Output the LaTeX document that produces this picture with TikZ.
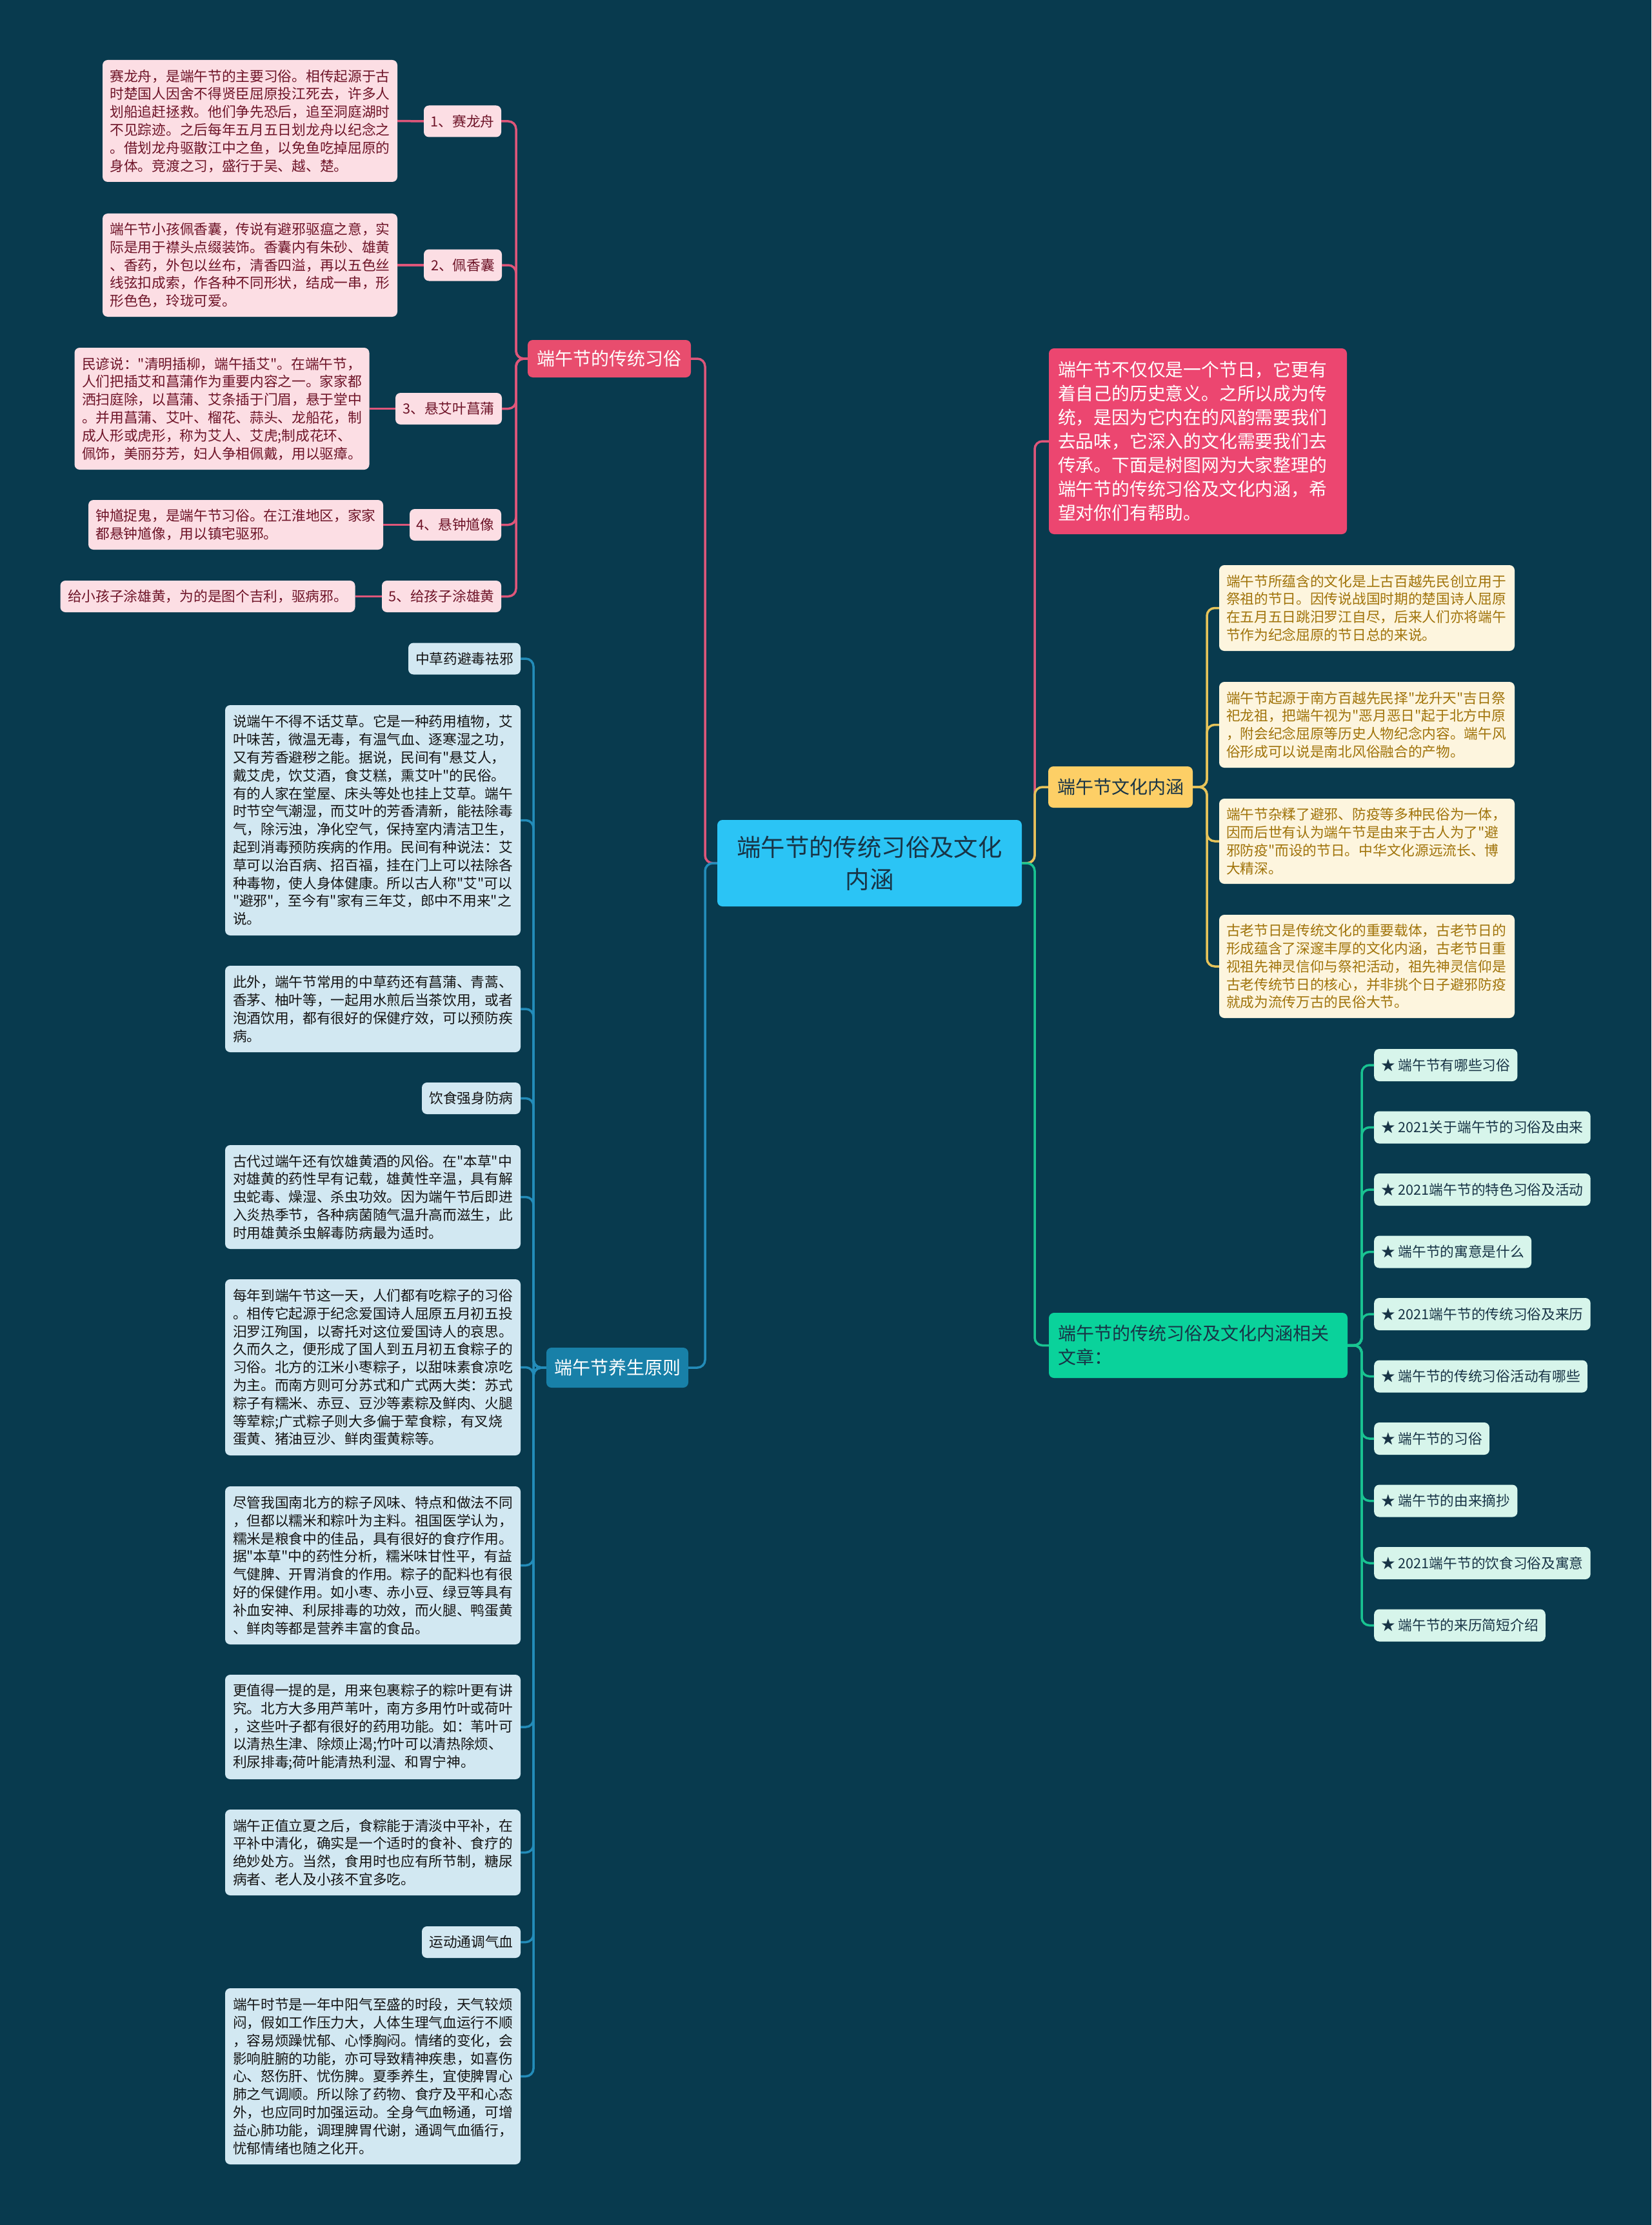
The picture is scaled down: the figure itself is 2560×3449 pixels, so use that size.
\documentclass[tikz,border=0pt]{standalone}
\usepackage{fontspec}
\setmainfont{Noto Sans CJK SC}[Ligatures=TeXOff]
\newcommand\fsz[2]{\fontsize{#1pt}{#2pt}\selectfont}
\definecolor{bg}{RGB}{8,58,78}
\definecolor{pkline}{RGB}{222,86,122}
\definecolor{pkfill}{RGB}{252,222,228}
\definecolor{pktext}{RGB}{110,20,40}
\definecolor{pkbranch}{RGB}{232,77,110}
\definecolor{blline}{RGB}{35,140,185}
\definecolor{blfill}{RGB}{210,232,242}
\definecolor{bltext}{RGB}{20,20,20}
\definecolor{blbranch}{RGB}{24,128,168}
\definecolor{ctfill}{RGB}{43,196,245}
\definecolor{darktext}{RGB}{24,52,70}
\definecolor{redfill}{RGB}{236,70,112}
\definecolor{ylnode}{RGB}{253,207,102}
\definecolor{ylfill}{RGB}{253,245,222}
\definecolor{yltext}{RGB}{160,115,10}
\definecolor{ylline}{RGB}{230,195,90}
\definecolor{gnnode}{RGB}{10,210,155}
\definecolor{gnfill}{RGB}{215,245,235}
\definecolor{gnline}{RGB}{25,195,145}
\begin{document}
\begin{tikzpicture}[x=1pt,y=-1pt,
  tb/.style={rounded corners=8pt, inner sep=0pt, align=left, font=\fsz{21.7}{27.8}},
  pinkbox/.style={tb, fill=pkfill, text=pktext, minimum width=457pt, text width=434pt},
  bluebox/.style={tb, fill=blfill, text=bltext, minimum width=458pt, text width=434pt},
  yelbox/.style={tb, fill=ylfill, text=yltext, minimum width=458pt, text width=436pt},
  lab/.style={rounded corners=8pt, inner sep=0pt, align=center, font=\fsz{21.7}{27.8}},
  pinklab/.style={lab, fill=pkfill, text=pktext, minimum height=49pt},
  bluelab/.style={lab, fill=blfill, text=bltext, minimum height=49pt},
  greenitem/.style={rounded corners=8pt, inner xsep=11pt, inner ysep=0pt, font=\fsz{21.7}{27.8}, fill=gnfill, text=darktext, minimum height=50pt, anchor=west},
  branch/.style={rounded corners=8pt, inner sep=0pt, align=center, font=\fsz{28}{37}},
  conn/.style={line width=3.5pt, rounded corners=12pt}
]
\fill[bg] (0,0) rectangle (2560,3449);
\useasboundingbox (0,0) rectangle (2560,3449);

% trunk coordinates
\coordinate (tL) at (1093,0);
\coordinate (tR) at (1604,0);
\coordinate (tP) at (800,0);
\coordinate (tB) at (827,0);
\coordinate (tY) at (1871,0);
\coordinate (tG) at (2111,0);

% center
\node[branch, fill=ctfill, text=darktext, font=\fsz{37.4}{50}, minimum width=472pt, minimum height=134pt, text width=450pt] (ct) at (1348,1338) {端午节的传统习俗及文化\\内涵};

% ===== pink branch =====
\node[branch, fill=pkbranch, text=white, minimum width=253pt, minimum height=58pt] (pb) at (944.5,556) {端午节的传统习俗};

\node[pinkbox, minimum height=189pt] (b1) at (387.5,187.5) {赛龙舟，是端午节的主要习俗。相传起源于古\\
时楚国人因舍不得贤臣屈原投江死去，许多人\\
划船追赶拯救。他们争先恐后，追至洞庭湖时\\
不见踪迹。之后每年五月五日划龙舟以纪念之\\
。借划龙舟驱散江中之鱼，以免鱼吃掉屈原的\\
身体。竞渡之习，盛行于吴、越、楚。};
\node[pinklab, minimum width=120pt] (n1) at (717,188) {1、赛龙舟};

\node[pinkbox, minimum height=160pt] (b2) at (387.5,411) {端午节小孩佩香囊，传说有避邪驱瘟之意，实\\
际是用于襟头点缀装饰。香囊内有朱砂、雄黄\\
、香药，外包以丝布，清香四溢，再以五色丝\\
线弦扣成索，作各种不同形状，结成一串，形\\
形色色，玲珑可爱。};
\node[pinklab, minimum width=121pt] (n2) at (717.5,411) {2、佩香囊};

\node[pinkbox, minimum height=189pt] (b3) at (344,633.5) {民谚说："清明插柳，端午插艾"。在端午节，\\
人们把插艾和菖蒲作为重要内容之一。家家都\\
洒扫庭除，以菖蒲、艾条插于门眉，悬于堂中\\
。并用菖蒲、艾叶、榴花、蒜头、龙船花，制\\
成人形或虎形，称为艾人、艾虎;制成花环、\\
佩饰，美丽芬芳，妇人争相佩戴，用以驱瘴。};
\node[pinklab, minimum width=165pt] (n3) at (695.5,633.5) {3、悬艾叶菖蒲};

\node[pinkbox, minimum height=77pt] (b4) at (365.5,813.5) {钟馗捉鬼，是端午节习俗。在江淮地区，家家\\
都悬钟馗像，用以镇宅驱邪。};
\node[pinklab, minimum width=142pt] (n4) at (706,813.5) {4、悬钟馗像};

\node[pinkbox, minimum height=49pt] (b5) at (322,924.5) {给小孩子涂雄黄，为的是图个吉利，驱病邪。};
\node[pinklab, minimum width=185pt] (n5) at (684.5,924.5) {5、给孩子涂雄黄};

% ===== blue branch =====
\node[branch, fill=blbranch, text=white, minimum width=220pt, minimum height=62pt] (bl) at (957,2120) {端午节养生原则};

\node[bluelab, minimum width=174pt] (s1) at (720,1021) {中草药避毒祛邪};

\node[bluebox, minimum height=357pt] (c1) at (578,1271.5) {说端午不得不话艾草。它是一种药用植物，艾\\
叶味苦，微温无毒，有温气血、逐寒湿之功，\\
又有芳香避秽之能。据说，民间有"悬艾人，\\
戴艾虎，饮艾酒，食艾糕，熏艾叶"的民俗。\\
有的人家在堂屋、床头等处也挂上艾草。端午\\
时节空气潮湿，而艾叶的芳香清新，能祛除毒\\
气，除污浊，净化空气，保持室内清洁卫生，\\
起到消毒预防疾病的作用。民间有种说法：艾\\
草可以治百病、招百福，挂在门上可以祛除各\\
种毒物，使人身体健康。所以古人称"艾"可以\\
"避邪"，至今有"家有三年艾，郎中不用来"之\\
说。};

\node[bluebox, minimum height=134pt] (c2) at (578,1564) {此外，端午节常用的中草药还有菖蒲、青蒿、\\
香茅、柚叶等，一起用水煎后当茶饮用，或者\\
泡酒饮用，都有很好的保健疗效，可以预防疾\\
病。};

\node[bluelab, minimum width=153pt] (s2) at (730.5,1702.5) {饮食强身防病};

\node[bluebox, minimum height=161pt] (c3) at (578,1855.5) {古代过端午还有饮雄黄酒的风俗。在"本草"中\\
对雄黄的药性早有记载，雄黄性辛温，具有解\\
虫蛇毒、燥湿、杀虫功效。因为端午节后即进\\
入炎热季节，各种病菌随气温升高而滋生，此\\
时用雄黄杀虫解毒防病最为适时。};

\node[bluebox, minimum height=273pt] (c4) at (578,2119.5) {每年到端午节这一天，人们都有吃粽子的习俗\\
。相传它起源于纪念爱国诗人屈原五月初五投\\
汨罗江殉国，以寄托对这位爱国诗人的哀思。\\
久而久之，便形成了国人到五月初五食粽子的\\
习俗。北方的江米小枣粽子，以甜味素食凉吃\\
为主。而南方则可分苏式和广式两大类：苏式\\
粽子有糯米、赤豆、豆沙等素粽及鲜肉、火腿\\
等荤粽;广式粽子则大多偏于荤食粽，有叉烧\\
蛋黄、猪油豆沙、鲜肉蛋黄粽等。};

\node[bluebox, minimum height=245pt] (c5) at (578,2426.5) {尽管我国南北方的粽子风味、特点和做法不同\\
，但都以糯米和粽叶为主料。祖国医学认为，\\
糯米是粮食中的佳品，具有很好的食疗作用。\\
据"本草"中的药性分析，糯米味甘性平，有益\\
气健脾、开胃消食的作用。粽子的配料也有很\\
好的保健作用。如小枣、赤小豆、绿豆等具有\\
补血安神、利尿排毒的功效，而火腿、鸭蛋黄\\
、鲜肉等都是营养丰富的食品。};

\node[bluebox, minimum height=162pt] (c6) at (578,2677) {更值得一提的是，用来包裹粽子的粽叶更有讲\\
究。北方大多用芦苇叶，南方多用竹叶或荷叶\\
，这些叶子都有很好的药用功能。如：苇叶可\\
以清热生津、除烦止渴;竹叶可以清热除烦、\\
利尿排毒;荷叶能清热利湿、和胃宁神。};

\node[bluebox, minimum height=133pt] (c7) at (578,2871.5) {端午正值立夏之后，食粽能于清淡中平补，在\\
平补中清化，确实是一个适时的食补、食疗的\\
绝妙处方。当然，食用时也应有所节制，糖尿\\
病者、老人及小孩不宜多吃。};

\node[bluelab, minimum width=153pt] (s3) at (730.5,3010.5) {运动通调气血};

\node[bluebox, minimum height=273pt] (c8) at (578,3218.5) {端午时节是一年中阳气至盛的时段，天气较烦\\
闷，假如工作压力大，人体生理气血运行不顺\\
，容易烦躁忧郁、心悸胸闷。情绪的变化，会\\
影响脏腑的功能，亦可导致精神疾患，如喜伤\\
心、怒伤肝、忧伤脾。夏季养生，宜使脾胃心\\
肺之气调顺。所以除了药物、食疗及平和心态\\
外，也应同时加强运动。全身气血畅通，可增\\
益心肺功能，调理脾胃代谢，通调气血循行，\\
忧郁情绪也随之化开。};

% ===== right side =====
\node[tb, fill=redfill, text=white, font=\fsz{27.8}{37}, minimum width=462pt, minimum height=288pt, text width=434pt] (rd) at (1857,684) {端午节不仅仅是一个节日，它更有\\
着自己的历史意义。之所以成为传\\
统，是因为它内在的风韵需要我们\\
去品味，它深入的文化需要我们去\\
传承。下面是树图网为大家整理的\\
端午节的传统习俗及文化内涵，希\\
望对你们有帮助。};

\node[branch, fill=ylnode, text=darktext, minimum width=224pt, minimum height=64pt] (yn) at (1737,1220) {端午节文化内涵};

\node[yelbox, minimum height=133pt] (y1) at (2119,942.5) {端午节所蕴含的文化是上古百越先民创立用于\\
祭祖的节日。因传说战国时期的楚国诗人屈原\\
在五月五日跳汨罗江自尽，后来人们亦将端午\\
节作为纪念屈原的节日总的来说。};
\node[yelbox, minimum height=133pt] (y2) at (2119,1123.5) {端午节起源于南方百越先民择"龙升天"吉日祭\\
祀龙祖，把端午视为"恶月恶日"起于北方中原\\
，附会纪念屈原等历史人物纪念内容。端午风\\
俗形成可以说是南北风俗融合的产物。};
\node[yelbox, minimum height=132pt] (y3) at (2119,1304) {端午节杂糅了避邪、防疫等多种民俗为一体，\\
因而后世有认为端午节是由来于古人为了"避\\
邪防疫"而设的节日。中华文化源远流长、博\\
大精深。};
\node[yelbox, minimum height=160pt] (y4) at (2119,1498) {古老节日是传统文化的重要载体，古老节日的\\
形成蕴含了深邃丰厚的文化内涵，古老节日重\\
视祖先神灵信仰与祭祀活动，祖先神灵信仰是\\
古老传统节日的核心，并非挑个日子避邪防疫\\
就成为流传万古的民俗大节。};

\node[tb, fill=gnnode, text=darktext, font=\fsz{28}{37}, minimum width=463pt, minimum height=101pt, text width=435pt] (gn) at (1857.5,2085.5) {端午节的传统习俗及文化内涵相关\\
文章：};

\node[greenitem] (g1) at (2130,1651) {★~端午节有哪些习俗};
\node[greenitem] (g2) at (2130,1747.5) {★~2021关于端午节的习俗及由来};
\node[greenitem] (g3) at (2130,1844) {★~2021端午节的特色习俗及活动};
\node[greenitem] (g4) at (2130,1940.5) {★~端午节的寓意是什么};
\node[greenitem] (g5) at (2130,2037) {★~2021端午节的传统习俗及来历};
\node[greenitem] (g6) at (2130,2133.5) {★~端午节的传统习俗活动有哪些};
\node[greenitem] (g7) at (2130,2230) {★~端午节的习俗};
\node[greenitem] (g8) at (2130,2326.5) {★~端午节的由来摘抄};
\node[greenitem] (g9) at (2130,2423) {★~2021端午节的饮食习俗及寓意};
\node[greenitem] (g10) at (2130,2519.5) {★~端午节的来历简短介绍};

% ===== connectors =====
\draw[conn, pkline] (ct.west) -- (ct.west -| tL) |- (pb.east);
\draw[conn, blline] (ct.west) -- (ct.west -| tL) |- (bl.east);
\draw[conn, pkline] (ct.east) -- (ct.east -| tR) |- (rd.west);
\draw[conn, ylline] (ct.east) -- (ct.east -| tR) |- (yn.west);
\draw[conn, gnline] (ct.east) -- (ct.east -| tR) |- (gn.west);

\foreach \n in {n1,n2,n3,n4,n5}
  \draw[conn, pkline] (pb.west) -- (pb.west -| tP) |- (\n.east);
\draw[conn, pkline] (n1.west) -- (b1.east);
\draw[conn, pkline] (n2.west) -- (b2.east);
\draw[conn, pkline] (n3.west) -- (b3.east);
\draw[conn, pkline] (n4.west) -- (b4.east);
\draw[conn, pkline] (n5.west) -- (b5.east);

\foreach \n in {s1,c1,c2,s2,c3,c4,c5,c6,c7,s3,c8}
  \draw[conn, blline] (bl.west) -- (bl.west -| tB) |- (\n.east);

\foreach \n in {y1,y2,y3,y4}
  \draw[conn, ylline] (yn.east) -- (yn.east -| tY) |- (\n.west);

\foreach \n in {g1,g2,g3,g4,g5,g6,g7,g8,g9,g10}
  \draw[conn, gnline] (gn.east) -- (gn.east -| tG) |- (\n.west);
\end{tikzpicture}
\end{document}
